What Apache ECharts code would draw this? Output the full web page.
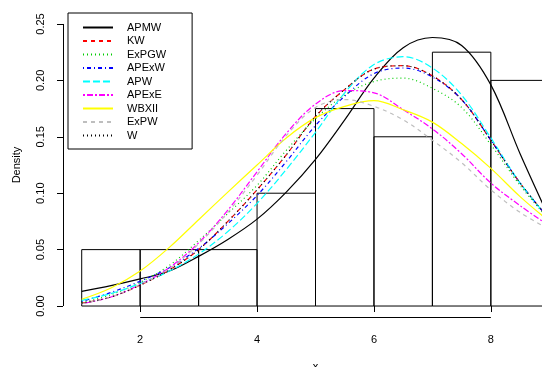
<!DOCTYPE html>
<html>
<head>
<meta charset="utf-8">
<title>Density</title>
<script src="https://cdn.jsdelivr.net/npm/echarts@6/dist/echarts.min.js"></script>
<style>
  html, body { margin: 0; padding: 0; background: #fff; }
  #chart { width: 542px; height: 367px; }
</style>
</head>
<body>
<div id="chart"></div>
<script>
// histogram: bin edges and densities
var binEdges = [1, 2, 3, 4, 5, 6, 7, 8, 9];
var binDensity = [0.05, 0.05, 0.05, 0.10, 0.175, 0.15, 0.225, 0.20];

// fitted densities
var xs    = [1, 1.5, 2, 2.5, 3, 3.5, 4, 4.5, 5, 5.5, 6, 6.5, 7, 7.5, 8, 8.5, 9];
var apmw  = [0.013, 0.018, 0.024, 0.031, 0.044, 0.059, 0.077, 0.101, 0.130, 0.165, 0.202, 0.229, 0.238, 0.231, 0.196, 0.135, 0.078];
var kw    = [0.0025, 0.008, 0.0185, 0.032, 0.050, 0.075, 0.103, 0.134, 0.168, 0.192, 0.210, 0.213, 0.204, 0.183, 0.147, 0.109, 0.077];
var expgw = [0.003, 0.010, 0.021, 0.036, 0.058, 0.082, 0.107, 0.138, 0.166, 0.187, 0.199, 0.202, 0.193, 0.176, 0.143, 0.107, 0.076];
var apexw = [0.004, 0.012, 0.022, 0.034, 0.051, 0.073, 0.098, 0.128, 0.160, 0.186, 0.206, 0.211, 0.203, 0.183, 0.147, 0.109, 0.077];
var apw   = [0.005, 0.011, 0.020, 0.031, 0.046, 0.066, 0.091, 0.121, 0.154, 0.189, 0.214, 0.221, 0.211, 0.187, 0.149, 0.109, 0.077];
var apexe = [0.002, 0.008, 0.019, 0.034, 0.056, 0.085, 0.119, 0.153, 0.179, 0.191, 0.189, 0.174, 0.157, 0.135, 0.109, 0.089, 0.071];
var wbxii = [0.006, 0.016, 0.031, 0.052, 0.0765, 0.101, 0.125, 0.149, 0.167, 0.177, 0.182, 0.174, 0.163, 0.144, 0.122, 0.097, 0.075];
var expw  = [0.002, 0.008, 0.019, 0.033, 0.055, 0.083, 0.116, 0.151, 0.176, 0.183, 0.177, 0.165, 0.147, 0.127, 0.103, 0.083, 0.068];
var w     = [0.0025, 0.008, 0.0185, 0.032, 0.050, 0.075, 0.103, 0.134, 0.168, 0.192, 0.210, 0.213, 0.204, 0.183, 0.147, 0.109, 0.077];

var xTicks = [2, 4, 6, 8];
var yTicks = [0, 0.05, 0.10, 0.15, 0.20, 0.25];

var fontFam = '"Liberation Sans", Arial, sans-serif';

var histData = [];
for (var i = 0; i < binDensity.length; i++) {
    histData.push([binEdges[i], binEdges[i + 1], binDensity[i]]);
}

var curve = function (name, vals, color, dash) {
    return {
        name: name,
        type: 'line',
        data: xs.map(function (x, i) { return [x, vals[i]]; }),
        smooth: 0.35,
        symbol: 'none',
        lineStyle: { color: color, width: 1.2, type: dash },
        itemStyle: { color: color },
        z: 3,
        silent: true
    };
};

var chart = echarts.init(document.getElementById('chart'), null, { renderer: 'canvas' });

// the R plot region runs to x = 9.32, past the right edge of the picture
var option = {
    animation: false,
    backgroundColor: '#fff',
    grid: { left: 63, right: 0, top: 12.7, bottom: 49.7, containLabel: false, outerBoundsMode: 'none' },
    xAxis: {
        type: 'value',
        min: 0.68, max: 8.875,
        name: 'x',
        nameLocation: 'middle',
        nameGap: 44,
        nameTextStyle: { color: '#000', fontSize: 11, fontFamily: fontFam, padding: [0, 0, 0, 26] },
        axisLine: { show: false },
        axisTick: { show: true, length: 6, customValues: xTicks, lineStyle: { color: '#000' } },
        axisLabel: { customValues: xTicks, color: '#000', fontSize: 11, fontFamily: fontFam, margin: 17 },
        splitLine: { show: false }
    },
    yAxis: {
        type: 'value',
        min: -0.01, max: 0.26,
        name: 'Density',
        nameLocation: 'middle',
        nameGap: 41,
        nameRotate: 90,
        nameTextStyle: { color: '#000', fontSize: 11, fontFamily: fontFam },
        axisLine: { show: false },
        axisTick: { show: true, length: 6, customValues: yTicks, lineStyle: { color: '#000' } },
        axisLabel: {
            customValues: yTicks, rotate: 90, color: '#000', fontSize: 11, fontFamily: fontFam, margin: 17,
            formatter: function (v) { return v.toFixed(2); }
        },
        splitLine: { show: false }
    },
    legend: {
        orient: 'vertical',
        left: 68, top: 13,
        padding: [9, 26, 8, 14],
        itemWidth: 30, itemHeight: 10, itemGap: 2.5,
        borderColor: '#000', borderWidth: 1, borderRadius: 0,
        backgroundColor: '#fff',
        selectedMode: false,
        itemStyle: { opacity: 0 },
        textStyle: { color: '#000', fontSize: 11, fontFamily: fontFam, padding: [0, 0, 0, 9] },
        data: ['APMW', 'KW', 'ExPGW', 'APExW', 'APW', 'APExE', 'WBXII', 'ExPW', 'W']
    },
    series: [
        {
            type: 'custom',
            silent: true,
            z: 1,
            data: histData,
            encode: { x: [0, 1], y: 2 },
            renderItem: function (params, api) {
                var p0 = api.coord([api.value(0), 0]);
                var p1 = api.coord([api.value(1), api.value(2)]);
                return {
                    type: 'rect',
                    shape: { x: p0[0], y: p1[1], width: p1[0] - p0[0], height: p0[1] - p1[1] },
                    style: { fill: 'none', stroke: '#000', lineWidth: 1 }
                };
            }
        },
        curve('APMW', apmw, '#000000', 'solid'),
        curve('KW', kw, '#FF0000', [4, 4]),
        curve('ExPGW', expgw, '#00CD00', [1, 3]),
        curve('APExW', apexw, '#0000FF', [1, 3, 4, 3]),
        curve('APW', apw, '#00FFFF', [7, 3]),
        curve('APExE', apexe, '#FF00FF', [2, 2, 6, 2]),
        curve('WBXII', wbxii, '#FFFF00', 'solid'),
        curve('ExPW', expw, '#BEBEBE', [4, 4]),
        curve('W', w, '#000000', [1, 3])
    ]
};
chart.setOption(option);

// R draws its axis lines only from the first to the last tick
var crisp = function (v) { return Math.round(v) + 0.5; };
var xa = chart.convertToPixel({ gridIndex: 0 }, [xTicks[0], -0.01]);
var xb = chart.convertToPixel({ gridIndex: 0 }, [xTicks[xTicks.length - 1], -0.01]);
var ya = chart.convertToPixel({ gridIndex: 0 }, [0.68, yTicks[0]]);
var yb = chart.convertToPixel({ gridIndex: 0 }, [0.68, yTicks[yTicks.length - 1]]);
chart.setOption({
    graphic: [
        { type: 'line', silent: true, shape: { x1: xa[0], y1: crisp(xa[1]), x2: xb[0], y2: crisp(xb[1]) }, style: { stroke: '#000', lineWidth: 1 } },
        { type: 'line', silent: true, shape: { x1: crisp(ya[0]), y1: ya[1], x2: crisp(yb[0]), y2: yb[1] }, style: { stroke: '#000', lineWidth: 1 } }
    ]
});
</script>
</body>
</html>
